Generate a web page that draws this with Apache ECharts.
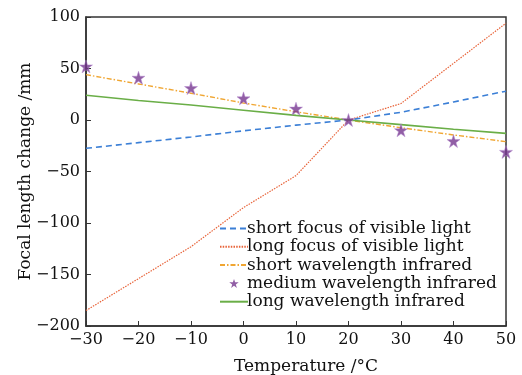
<!DOCTYPE html>
<html style="height: 100%">
<head>
<meta charset="utf-8">
<title></title>
<style>
  html, body { margin: 0; padding: 0; background: #fff; }
  #chart { width: 522px; height: 375px; }
</style>
</head>
<body>
<div id="chart"></div>
<script src="https://cdn.jsdelivr.net/npm/echarts@6/dist/echarts.min.js"></script>
<script type="text/javascript">
  // 温度 (°C)
  var temps = [-30, -20, -10, 0, 10, 20, 30, 40, 50];
  // 各波段焦距变化 (mm)
  var shortVisible = [-27.5, -22, -16.5, -10.5, -5, 0, 7.5, 17.5, 28];
  var longVisible = [-185, -154, -123, -85, -54, 0, 16, 55, 94];
  var shortIR = [44, 35, 26, 16.5, 8, 0, -7.5, -14.5, -21];
  var mediumIR = [52, 41, 31, 21, 11, 0, -10, -20.5, -31];
  var longIR = [24, 19, 14.5, 9.5, 4.5, 0, -4.5, -9, -13];

  var names = ['short focus of visible light', 'long focus of visible light',
    'short wavelength infrared', 'medium wavelength infrared', 'long wavelength infrared'];

  function pairs(arr) {
    return temps.map(function (t, i) { return [t, arr[i]]; });
  }
  function minus(v) { return String(v).replace('-', '\u2212'); }

  var star = 'path://M50,0 L61.8,36.2 L100,36.2 L69.1,58.6 L80.9,95.1 L50,72.6 L19.1,95.1 L30.9,58.6 L0,36.2 L38.2,36.2 Z';
  var font = 'DejaVu Serif';

  // 图例：线条类不显示中间的圆点
  var legendData = names.map(function (n, i) {
    if (i === 3) return { name: n, icon: star, itemStyle: { borderWidth: 0 } };
    return { name: n, itemStyle: { opacity: 0 } };
  });

  var myChart = echarts.init(document.getElementById('chart'));
  var option = {
    animation: false,
    textStyle: { fontFamily: font, color: '#111' },
    grid: {
      left: 86, right: 16, top: 17, bottom: 49,
      outerBoundsMode: 'none',
      containLabel: false,
      show: true, borderColor: '#333', borderWidth: 1.5
    },
    legend: {
      orient: 'vertical',
      left: 214,
      top: 215,
      itemWidth: 28,
      itemHeight: 9,
      itemGap: 1.3,
      data: legendData,
      textStyle: { fontFamily: font, fontSize: 17, color: '#111', lineHeight: 17, padding: [0, 0, 0, -6] }
    },
    xAxis: {
      type: 'value',
      min: -30, max: 50, interval: 10,
      name: 'Temperature /\u00b0C',
      nameLocation: 'middle',
      nameGap: 32,
      nameMoveOverlap: false,
      nameTextStyle: { fontFamily: font, fontSize: 17, color: '#111', padding: [0, 0, 0, 20] },
      axisLine: { onZero: false, lineStyle: { color: '#333', width: 1.5 } },
      axisTick: { inside: true, length: 5, lineStyle: { color: '#333' } },
      axisLabel: { fontFamily: font, fontSize: 16, color: '#111', margin: 6, formatter: minus },
      splitLine: { show: false }
    },
    yAxis: {
      type: 'value',
      min: -200, max: 100, interval: 50,
      name: 'Focal length change /mm',
      nameLocation: 'middle',
      nameGap: 52,
      nameMoveOverlap: false,
      nameTextStyle: { fontFamily: font, fontSize: 17, color: '#111' },
      axisLine: { onZero: false, lineStyle: { color: '#333', width: 1.5 } },
      axisTick: { inside: true, length: 5, lineStyle: { color: '#333' } },
      axisLabel: { fontFamily: font, fontSize: 16, color: '#111', margin: 6, formatter: minus },
      splitLine: { show: false }
    },
    series: [
      {
        name: names[0], type: 'line', symbol: 'none', data: pairs(shortVisible),
        lineStyle: { color: '#3b7fd6', width: 1.6, type: [6, 4] },
        itemStyle: { color: '#3b7fd6' }, z: 3
      },
      {
        name: names[1], type: 'line', symbol: 'none', data: pairs(longVisible),
        lineStyle: { color: '#e8643a', width: 1.2, type: [1.5, 1.2] },
        itemStyle: { color: '#e8643a' }, z: 2
      },
      {
        name: names[2], type: 'line', symbol: 'none', data: pairs(shortIR),
        lineStyle: { color: '#f0a632', width: 1.4, type: [5, 2, 1.5, 2] },
        itemStyle: { color: '#f0a632' }, z: 4
      },
      {
        name: names[3], type: 'scatter', symbol: star, symbolSize: 13, data: pairs(mediumIR),
        itemStyle: { color: '#76368f', borderColor: '#b58bd0', borderWidth: 0.6 }, z: 6
      },
      {
        name: names[4], type: 'line', symbol: 'none', data: pairs(longIR),
        lineStyle: { color: '#6aae47', width: 1.6 },
        itemStyle: { color: '#6aae47' }, z: 5
      }
    ]
  };
  myChart.setOption(option);
</script>
</body>
</html>
